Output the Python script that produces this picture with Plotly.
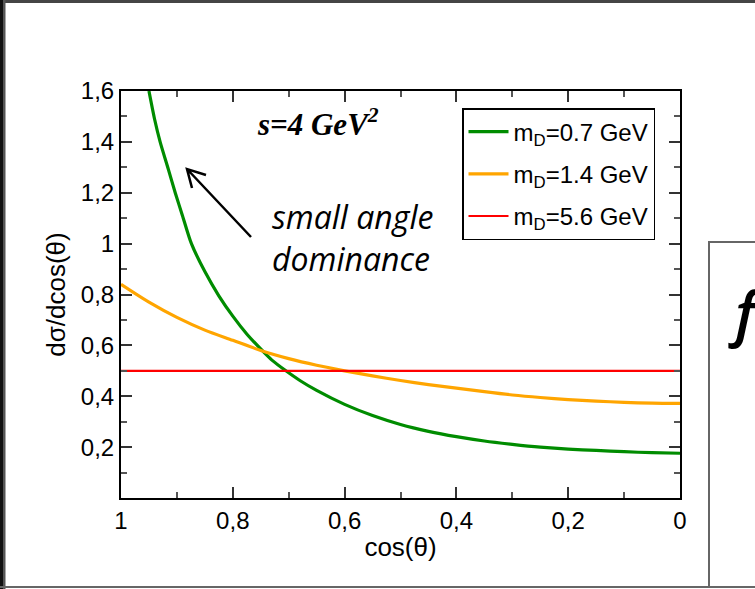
import plotly.graph_objects as go

# ---------------- data ----------------
cos_green = [0.95, 0.94, 0.93, 0.915, 0.903, 0.89, 0.874, 0.85, 0.825, 0.80, 0.775, 0.751,
             0.73, 0.705, 0.68, 0.65, 0.60, 0.55, 0.50, 0.45, 0.40, 0.35, 0.30, 0.25,
             0.20, 0.15, 0.10, 0.05, 0.00]
val_green = [1.60, 1.49, 1.40, 1.29, 1.20, 1.11, 1.00, 0.89, 0.795, 0.715, 0.645, 0.588,
             0.542, 0.50, 0.462, 0.423, 0.368, 0.324, 0.289, 0.262, 0.241, 0.224, 0.211, 0.200,
             0.192, 0.187, 0.182, 0.178, 0.176]

cos_orange = [1.00, 0.95, 0.90, 0.85, 0.80, 0.75, 0.70, 0.65, 0.60, 0.55, 0.50,
              0.45, 0.40, 0.35, 0.30, 0.25, 0.20, 0.15, 0.10, 0.05, 0.00]
val_orange = [0.84, 0.77, 0.71, 0.66, 0.62, 0.58, 0.548, 0.522, 0.50, 0.48, 0.462,
              0.446, 0.432, 0.418, 0.405, 0.395, 0.387, 0.381, 0.376, 0.373, 0.372]

cos_red = [1.00, 0.00]
val_red = [0.50, 0.50]

series_names = ["m<sub>D</sub>=0.7 GeV", "m<sub>D</sub>=1.4 GeV", "m<sub>D</sub>=5.6 GeV"]

x_tickvals = [1.0, 0.8, 0.6, 0.4, 0.2, 0.0]
x_ticktext = ["1", "0,8", "0,6", "0,4", "0,2", "0"]
x_minorvals = [0.9, 0.7, 0.5, 0.3, 0.1]
y_tickvals = [0.2, 0.4, 0.6, 0.8, 1.0, 1.2, 1.4, 1.6]
y_ticktext = ["0,2", "0,4", "0,6", "0,8", "1", "1,2", "1,4", "1,6"]
y_minorvals = [0.1, 0.3, 0.5, 0.7, 0.9, 1.1, 1.3, 1.5]

# ---------------- layout geometry ----------------
W, H = 755, 589
L, R, T, B = 121, 680, 91, 498


def px(x):
    return (x - L) / (R - L)


def py(y):
    return (B - y) / (B - T)


fig = go.Figure()
fig.add_trace(go.Scatter(x=cos_green, y=val_green, mode="lines", name=series_names[0],
                         line=dict(color="#008c00", width=3.2, shape="spline", smoothing=0.7),
                         legendgroup="a"))
fig.add_trace(go.Scatter(x=cos_orange, y=val_orange, mode="lines", name=series_names[1],
                         line=dict(color="#ffa500", width=3.2, shape="spline", smoothing=0.8),
                         legendgroup="b"))
fig.add_trace(go.Scatter(x=cos_red, y=val_red, mode="lines", name=series_names[2],
                         line=dict(color="#ff0000", width=2.2), legendgroup="c"))

axis_common = dict(showline=True, linecolor="black", linewidth=2, mirror="allticks",
                   ticks="inside", ticklen=11, tickwidth=1.5, tickcolor="#333",
                   showgrid=False, zeroline=False,
                   tickfont=dict(family="Liberation Sans", size=24, color="black"))

fig.update_xaxes(range=[1, 0], tickmode="array", tickvals=x_tickvals, ticktext=x_ticktext,
                 minor=dict(tickmode="array", tickvals=x_minorvals, ticks="inside",
                            ticklen=6, tickwidth=1.5, tickcolor="#555"),
                 title=dict(text="cos(θ)", standoff=5,
                            font=dict(family="Liberation Sans", size=26, color="black")),
                 **axis_common)
fig.update_yaxes(range=[0, 1.6], tickmode="array", tickvals=y_tickvals, ticktext=y_ticktext,
                 minor=dict(tickmode="array", tickvals=y_minorvals, ticks="inside",
                            ticklen=6, tickwidth=1.5, tickcolor="#555"),
                 title=dict(text="dσ/dcos(θ)", standoff=8,
                            font=dict(family="Liberation Sans", size=26, color="black")),
                 **axis_common)

shapes = [
    # slide frame
    dict(type="rect", xref="paper", yref="paper", x0=px(0), x1=px(W), y0=py(3), y1=py(0),
         fillcolor="#454545", line=dict(width=0), layer="above"),
    dict(type="rect", xref="paper", yref="paper", x0=px(0), x1=px(3), y0=py(H), y1=py(0),
         fillcolor="#111111", line=dict(width=0), layer="above"),
    dict(type="rect", xref="paper", yref="paper", x0=px(3), x1=px(5.5), y0=py(H), y1=py(0),
         fillcolor="#555555", line=dict(width=0), layer="above"),
    dict(type="rect", xref="paper", yref="paper", x0=px(0), x1=px(W), y0=py(588), y1=py(586),
         fillcolor="#666666", line=dict(width=0), layer="above"),
    # right box
    dict(type="rect", xref="paper", yref="paper", x0=px(709), x1=px(W + 10), y0=py(587), y1=py(242),
         fillcolor="rgba(0,0,0,0)", line=dict(color="#666666", width=2), layer="above"),
    # arrow
    dict(type="path", xref="paper", yref="paper",
         path=f"M {px(251)} {py(237)} L {px(187)} {py(169)} "
              f"M {px(192)} {py(188)} L {px(187)} {py(169)} L {px(206)} {py(175)}",
         line=dict(color="black", width=2.5), layer="above"),
]

annotations = [
    dict(xref="paper", yref="paper", x=px(255), y=py(122), xanchor="left", yanchor="middle",
         text="<b><i>s=4 GeV</i></b><sup><b><i>2</i></b></sup>", showarrow=False,
         font=dict(family="Liberation Serif", size=31, color="black")),
    dict(xref="paper", yref="paper", x=px(270), y=py(216), xanchor="left", yanchor="middle",
         text="<i>small angle</i>", showarrow=False,
         font=dict(family="Open Sans", size=32, color="black")),
    dict(xref="paper", yref="paper", x=px(270), y=py(258), xanchor="left", yanchor="middle",
         text="<i>dominance</i>", showarrow=False,
         font=dict(family="Open Sans", size=32, color="black")),
    dict(xref="paper", yref="paper", x=px(726), y=py(312), xanchor="left", yanchor="middle",
         text="<i>f</i>", showarrow=False,
         font=dict(family="Open Sans", size=60, color="black", weight=600)),
]

fig.update_layout(
    width=W, height=H,
    margin=dict(l=L, r=W - R, t=T, b=H - B, autoexpand=False),
    paper_bgcolor="white", plot_bgcolor="white",
    separators=",.",
    showlegend=True,
    legend=dict(x=px(462), y=py(108), xanchor="left", yanchor="top",
                bordercolor="black", borderwidth=1.5, bgcolor="white",
                font=dict(family="Liberation Sans", size=24, color="black"),
                tracegroupgap=8, itemwidth=40),
    shapes=shapes,
    annotations=annotations,
)

fig.write_html("out.html", config={"displayModeBar": False},
               post_script="document.body.style.margin='0px';")
